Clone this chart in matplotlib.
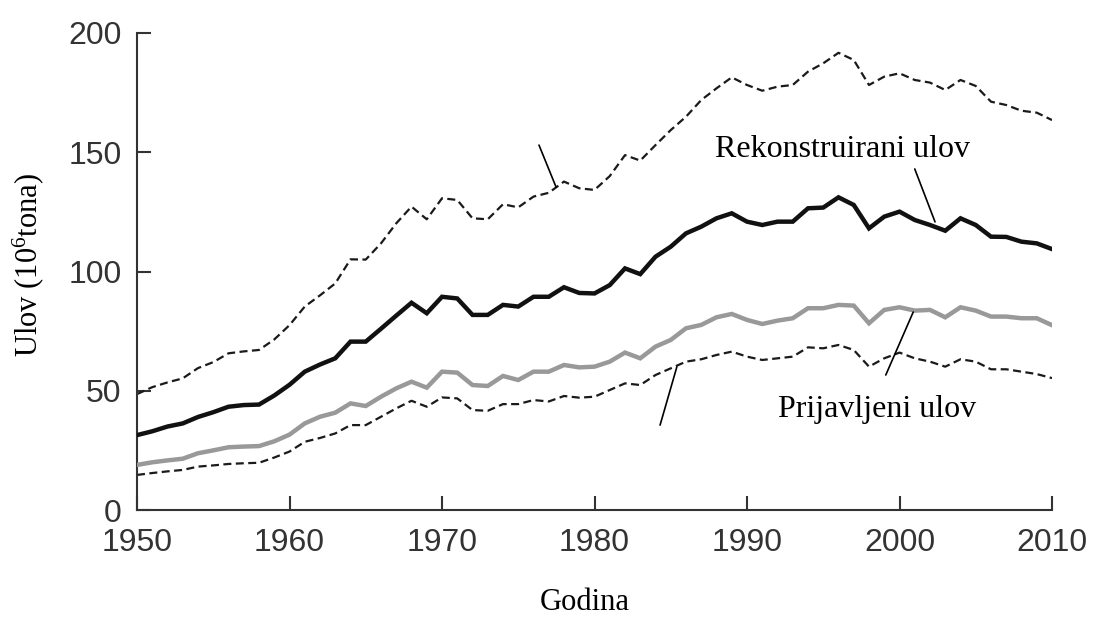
import matplotlib
matplotlib.use("Agg")
import matplotlib.pyplot as plt
import numpy as np

years = list(range(1950, 2011))

reconstructed = [31.4, 33, 35, 36.3, 39, 41, 43.3, 44, 44.2, 48,
                 52.5, 58, 61, 63.6, 70.6, 70.6, 76, 81.5, 86.9, 82.5,
                 89.4, 88.7, 81.8, 81.8, 86, 85.3, 89.4, 89.4, 93.4, 91,
                 90.8, 94.3, 101.3, 98.9, 106.2, 110.4, 116, 118.8, 122.3, 124.4,
                 120.9, 119.5, 120.9, 120.9, 126.5, 126.8, 131.1, 127.9, 118.1, 123,
                 125.1, 121.6, 119.5, 117.1, 122.3, 119.5, 114.6, 114.5, 112.5, 111.8,
                 109.4]

reported = [18.9, 20, 20.8, 21.5, 23.8, 25, 26.3, 26.6, 26.8, 28.8,
            31.6, 36.3, 39.1, 40.8, 44.7, 43.6, 47.5, 51, 53.8, 51.3,
            58, 57.6, 52.4, 52, 56.2, 54.5, 58, 58, 60.8, 59.8,
            60.1, 62.2, 66, 63.6, 68.5, 71.3, 76.2, 77.6, 80.8, 82.2,
            79.7, 78, 79.4, 80.4, 84.6, 84.6, 86, 85.7, 78.3, 83.9,
            85, 83.6, 83.9, 80.8, 85, 83.6, 81.1, 81.1, 80.4, 80.4,
            77.5]

upper_bound = [48.6, 51.5, 53.5, 55.2, 59.5, 62, 65.7, 66.5, 67.1, 71.5,
               77.5, 85.3, 90, 95, 105.1, 105, 111.8, 120.2, 127.2, 121.9,
               130.7, 130, 122.3, 121.9, 128.2, 126.9, 131.4, 133, 137.7, 134.9,
               134.2, 140, 148.8, 146.5, 153, 159.3, 164.9, 171.9, 176.8, 181.4,
               178.2, 175.8, 177.5, 178.2, 183.8, 187.3, 191.7, 188.7, 178.2, 181.7,
               183.1, 180.3, 179.2, 176.1, 180.3, 177.8, 171.2, 169.8, 167.4, 166.6,
               163.5]

lower_bound = [14.7, 15.5, 16.2, 16.8, 18.2, 18.7, 19.3, 19.6, 19.8, 22,
               24.5, 28.6, 30.2, 32.1, 35.6, 35.6, 39.1, 42.6, 45.8, 43.3,
               47.2, 46.8, 41.9, 41.6, 44.4, 44.4, 46.1, 45.5, 47.8, 47.1,
               47.5, 50.3, 53.1, 52.4, 56.6, 59.4, 62.2, 63.2, 65, 66.4,
               64.3, 62.9, 63.6, 64.3, 68.2, 67.8, 69.2, 67.1, 60.1, 63.6,
               66, 63.6, 62.2, 60.1, 63.2, 62.2, 59, 59, 58, 57,
               55.3]

xticks = [1950, 1960, 1970, 1980, 1990, 2000, 2010]
yticks = [0, 50, 100, 150, 200]

plt.rcParams['mathtext.default'] = 'regular'

fig = plt.figure(figsize=(10.98, 6.17), dpi=100)
ax = fig.add_axes([137 / 1098, 1 - 510 / 617, (1052 - 137) / 1098, (510 - 33) / 617])

dash = (0, (3.6, 2.0))
ax.plot(years, upper_bound, color='#1a1a1a', lw=1.6, linestyle=dash, zorder=2)
ax.plot(years, lower_bound, color='#1a1a1a', lw=1.6, linestyle=dash, zorder=2)
ax.plot(years, reported, color='#999999', lw=3.2, zorder=3, solid_joinstyle='miter')
ax.plot(years, reconstructed, color='#111111', lw=3.2, zorder=4, solid_joinstyle='miter')

ax.set_xlim(1950, 2010)
ax.set_ylim(0, 200)
ax.set_xticks(xticks)
ax.set_yticks(yticks)

for s in ['top', 'right']:
    ax.spines[s].set_visible(False)
for s in ['left', 'bottom']:
    ax.spines[s].set_linewidth(1.5)
    ax.spines[s].set_color('#333333')

ax.tick_params(axis='both', direction='in', length=10, width=1.5, color='#333333',
               labelsize=23, labelcolor='#333333')
ax.tick_params(axis='y', pad=11)
ax.tick_params(axis='x', pad=13)
for lab in ax.get_xticklabels() + ax.get_yticklabels():
    lab.set_fontfamily('Liberation Sans')

serif = 'Liberation Serif'
# annotations
ax.text(1987.9, 148.1, 'Rekonstruirani ulov', family=serif, fontsize=23,
        ha='left', va='baseline', color='black')
ax.text(1992.05, 39.1, 'Prijavljeni ulov', family=serif, fontsize=23,
        ha='left', va='baseline', color='black')

leaders = [((2001.0, 143.0), (2002.33, 120.8)),
           ((1999.1, 56.6), (2000.9, 83.0)),
           ((1984.3, 35.6), (1985.4, 60.0)),
           ((1976.36, 153.0), (1977.48, 135.4))]
for (x0, y0), (x1, y1) in leaders:
    ax.annotate('', xy=(x1, y1), xytext=(x0, y0),
                arrowprops=dict(arrowstyle='-', color='black', lw=1.2,
                                shrinkA=0, shrinkB=0))

fig.text(585 / 1098, 1 - 610 / 617, 'Godina', family=serif, fontsize=22,
         ha='center', va='baseline')
fig.text(28 / 1098, 1 - 265 / 617, 'Ulov (10$^6$tona)', family=serif, fontsize=22,
         ha='center', va='center', rotation=90)

fig.savefig('out.png', dpi=100)
